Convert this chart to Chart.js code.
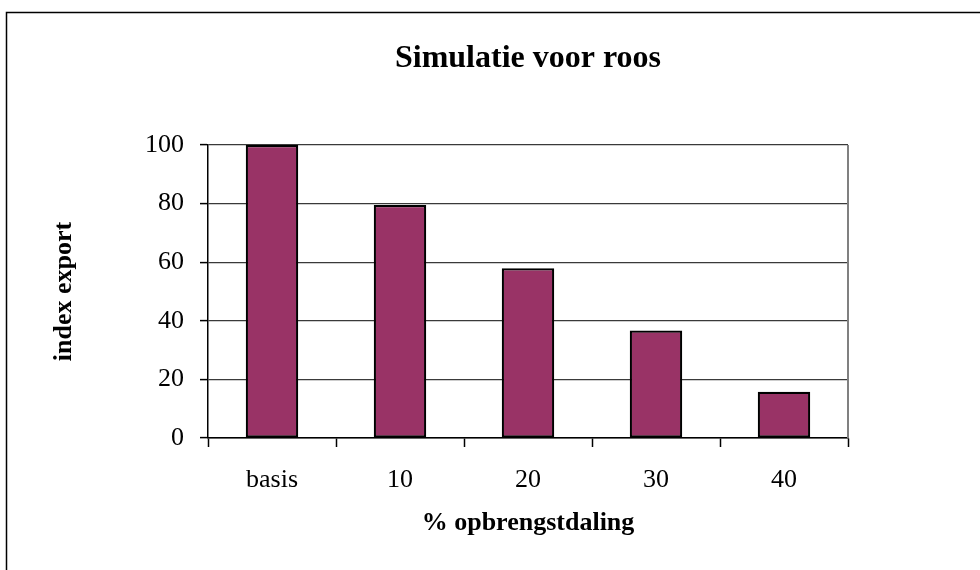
<!DOCTYPE html>
<html>
<head>
<meta charset="utf-8">
<script src="https://cdn.jsdelivr.net/npm/chart.js@4/dist/chart.umd.min.js"></script>
<style>
  body { margin: 0; background: #fff; }
  canvas { display: block; }
</style>
</head>
<body>
<canvas id="myChart" width="980" height="570"></canvas>
<script>
const categories = ['basis', '10', '20', '30', '40'];
const exportIndex = [100, 79.5, 57.9, 36.7, 15.8];
const yTicks = [0, 20, 40, 60, 80, 100];

const serif = '"Liberation Serif", "Times New Roman", serif';

// frame around the whole picture and grey right edge of the plot
const framePlugin = {
  id: 'frame',
  afterDraw(chart) {
    const ctx = chart.ctx;
    const area = chart.chartArea;
    ctx.save();
    ctx.strokeStyle = '#808080';
    ctx.lineWidth = 2;
    ctx.beginPath();
    ctx.moveTo(area.right, area.top);
    ctx.lineTo(area.right, area.bottom);
    ctx.stroke();
    ctx.strokeStyle = '#000';
    ctx.lineWidth = 1.5;
    ctx.strokeRect(6.5, 12.5, 990, 600);
    ctx.restore();
  }
};

const ctx = document.getElementById('myChart').getContext('2d');
const myChart = new Chart(ctx, {
  type: 'bar',
  data: {
    labels: categories,
    datasets: [
      {
        label: 'index export',
        data: exportIndex,
        backgroundColor: '#993366',
        borderColor: '#000',
        borderWidth: 2.2,
        borderSkipped: false,
        barPercentage: 0.41,
        categoryPercentage: 1,
      },
    ],
  },
  options: {
    responsive: false,
    animation: false,
    layout: {
      padding: { left: 0, right: 132, top: 0, bottom: 0 },
    },
    plugins: {
      legend: { display: false },
      tooltip: { enabled: false },
      title: {
        display: true,
        text: 'Simulatie voor roos',
        fullSize: false,
        color: '#000',
        font: { family: serif, size: 32, weight: 'bold' },
        padding: { top: 40, bottom: 66.6 },
      },
    },
    scales: {
      x: {
        afterFit: (scale) => { scale.height = 132; },
        grid: {
          offset: true,
          drawOnChartArea: false,
          tickLength: 9,
          tickColor: '#000',
          tickWidth: 1.5,
        },
        border: { color: '#000', width: 1.5 },
        ticks: {
          color: '#000',
          font: { family: serif, size: 26 },
          padding: 18,
          maxRotation: 0,
        },
        title: {
          display: true,
          text: '% opbrengstdaling',
          color: '#000',
          font: { family: serif, size: 26, weight: 'bold' },
          padding: { top: 0, bottom: 31 },
        },
      },
      y: {
        min: 0,
        max: 100,
        afterFit: (scale) => { scale.width = 208; },
        afterBuildTicks: (scale) => {
          scale.ticks = yTicks.map((v) => ({ value: v }));
        },
        grid: {
          color: '#3a3a3a',
          lineWidth: 1.2,
          tickLength: 8,
          tickColor: '#000',
          tickWidth: 1.5,
        },
        border: { color: '#000', width: 1.5 },
        ticks: {
          color: '#000',
          font: { family: serif, size: 26 },
          padding: 16,
        },
        title: {
          display: true,
          text: 'index export',
          color: '#000',
          font: { family: serif, size: 26, weight: 'bold' },
          padding: { top: 49, bottom: 0 },
        },
      },
    },
  },
  plugins: [framePlugin],
});
</script>
</body>
</html>
